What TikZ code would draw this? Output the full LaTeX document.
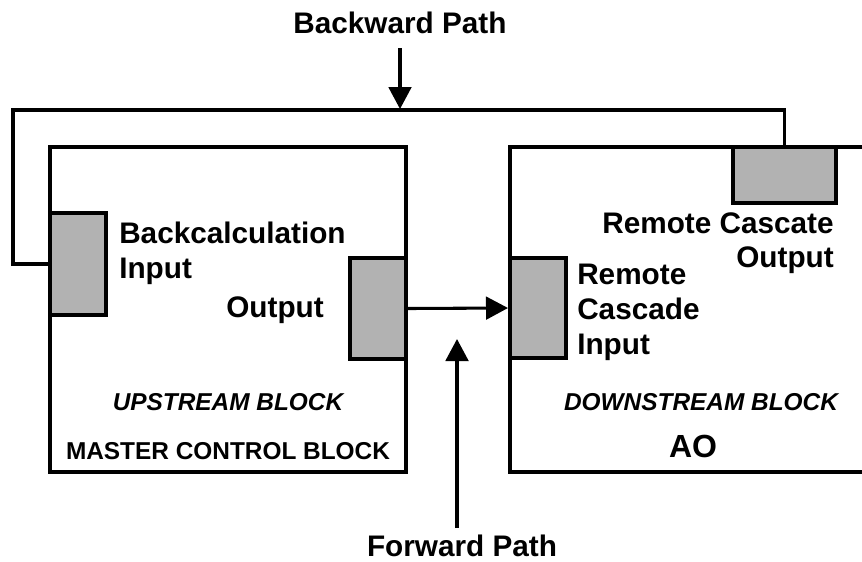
\documentclass[tikz,border=0pt]{standalone}
\usepackage{fontspec}
\setmainfont{Liberation Sans}
\usetikzlibrary{arrows.meta}
\definecolor{portgray}{RGB}{178,178,178}
\tikzset{
  blockbox/.style={draw=black, line width=2.6pt, fill=white, inner sep=0pt},
  portbox/.style={draw=black, line width=3pt, fill=portgray, inner sep=0pt},
  wire/.style={line width=2.3pt, draw=black},
  arr/.style={wire, -{Triangle[length=16.5pt, width=17pt]}},
  biglabel/.style={font=\fontsize{22.3}{26}\selectfont\bfseries, inner sep=0pt},
  smalllabel/.style={font=\fontsize{18.3}{22}\selectfont\bfseries, inner sep=0pt},
  smallit/.style={font=\fontsize{18.3}{22}\selectfont\bfseries\itshape, inner sep=0pt},
}
\begin{document}
\begin{tikzpicture}[x=0.75pt, y=-0.75pt]
\useasboundingbox (0,0) rectangle (862,561);
\clip (0,0) rectangle (862,561);
% blocks
\node[blockbox, minimum width=267pt, minimum height=243.75pt] (up) at (228,309.5) {};
\node[blockbox, minimum width=277.5pt, minimum height=243.75pt] (down) at (695,309.5) {};
% ports
\node[portbox, minimum width=42pt, minimum height=76.5pt] (bcin) at (78,264) {};
\node[portbox, minimum width=42pt, minimum height=75.75pt] (out) at (378,308.5) {};
\node[portbox, minimum width=42pt, minimum height=75pt] (rcin) at (538,308) {};
\node[portbox, minimum width=77.25pt, minimum height=42pt] (rcout) at (784.5,175) {};
% backward loop
\coordinate (tl) at (13,110);
\draw[wire] (rcout.north) |- (tl) |- (bcin.west);
% forward connector
\draw[arr] (out.east) -- (rcin.west);
% labels
\node[biglabel, anchor=base] (bwlabel) at (400,33) {Backward Path};
\coordinate (bwstart) at (400,48);
\coordinate (bwtip) at (400,109);
\draw[arr] (bwstart) -- (bwtip);
\node[biglabel, anchor=base] (fwlabel) at (462,556) {Forward Path};
\coordinate (fwstart) at (457,528);
\coordinate (fwtip) at (457,339);
\draw[arr] (fwstart) -- (fwtip);
\node[biglabel, align=left, anchor=north west] (bclabel) at (119,222) {Backcalculation\\Input};
\node[biglabel, anchor=base east] (outlabel) at (324,317) {Output};
\node[biglabel, align=right, anchor=north east] (rcoutlabel) at (834,212) {Remote Cascate\\Output};
\node[biglabel, align=left, anchor=north west] (rcinlabel) at (577,264) {Remote\\Cascade\\Input};
\node[smallit, anchor=base] (uplabel) at (228,410) {UPSTREAM BLOCK};
\node[smalllabel, anchor=base] (mcb) at (228,459) {MASTER CONTROL BLOCK};
\node[smallit, anchor=base] (downlabel) at (701,410) {DOWNSTREAM BLOCK};
\node[font=\fontsize{24}{28}\selectfont\bfseries, inner sep=0pt, anchor=base] (ao) at (693,457) {AO};
\end{tikzpicture}
\end{document}
